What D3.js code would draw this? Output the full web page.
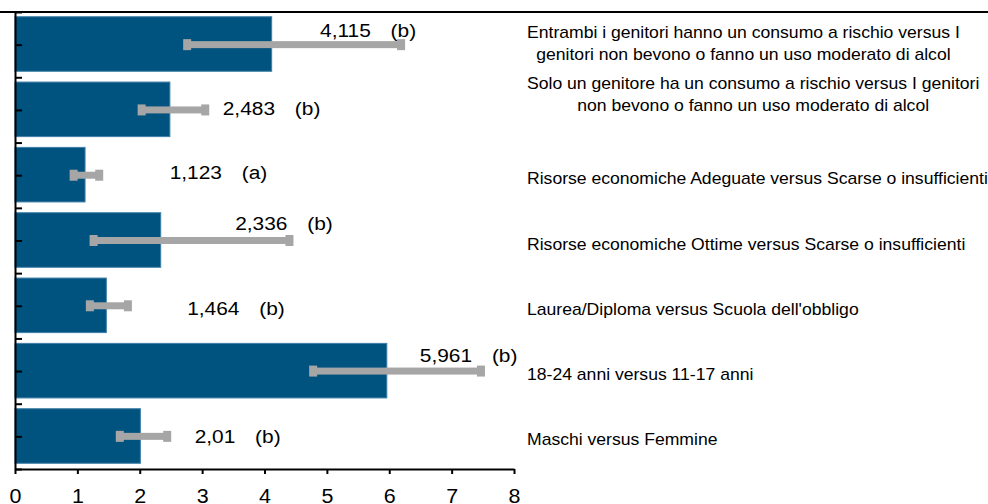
<!DOCTYPE html>
<html>
<head>
<meta charset="utf-8">
<script src="https://cdnjs.cloudflare.com/ajax/libs/d3/7.8.5/d3.min.js"></script>
<style>
	body { margin: 0; background: #ffffff; }
	text { font-family: "Liberation Sans", Arial, sans-serif; fill: #000000; }
</style>
</head>
<body>
<script>
//Data
var categories = [
	["Entrambi i genitori hanno un consumo a rischio versus I", "genitori non bevono o fanno un uso moderato di alcol"],
	["Solo un genitore ha un consumo a rischio versus I genitori", "non bevono o fanno un uso moderato di alcol"],
	["Risorse economiche Adeguate versus Scarse o insufficienti"],
	["Risorse economiche Ottime versus Scarse o insufficienti"],
	["Laurea/Diploma versus Scuola dell'obbligo"],
	["18-24 anni versus 11-17 anni"],
	["Maschi versus Femmine"]
];
var values = [4.115, 2.483, 1.123, 2.336, 1.464, 5.961, 2.01];
var lower = [2.76, 2.03, 0.94, 1.26, 1.20, 4.78, 1.68];
var upper = [6.19, 3.05, 1.35, 4.40, 1.81, 7.47, 2.44];
var significance = ["(b)", "(b)", "(a)", "(b)", "(b)", "(b)", "(b)"];
var xTicks = [0, 1, 2, 3, 4, 5, 6, 7, 8];

//Where the value labels were dragged to (x in axis units, y offset from row centre)
var labelAt = [[4.89, -8], [3.33, 5], [2.48, 4], [3.53, -11], [2.76, 9], [6.49, -9], [2.88, 7]];
//First baseline of each category label, offset from row centre
var catShift = [-7, -21, 9, 9, 9, 9, 9];

//Width and height
var w = 988, h = 504;
var stretch = 1.1; //text in the picture is a bit wider than tall

var svg = d3.select("body")
	.append("svg")
	.attr("width", w)
	.attr("height", h);

//Scales
var x = d3.scaleLinear()
	.domain([0, 8])
	.range([15, 514]);

var y = d3.scaleBand()
	.domain(d3.range(values.length))
	.range([12, 469])
	.paddingInner(0.165)
	.paddingOuter(0.08);

var rowScale = d3.scaleLinear()
	.domain([0, values.length])
	.range([12, 469]);

function rowMid(i) { return rowScale(i + 0.5); }

//Top rule
svg.append("line")
	.attr("x1", 0)
	.attr("x2", w)
	.attr("y1", 12)
	.attr("y2", 12)
	.style("stroke", "#000")
	.style("stroke-width", 2);

//Bars
svg.selectAll("rect.bar")
	.data(values)
	.enter()
	.append("rect")
	.attr("class", "bar")
	.attr("x", x(0))
	.attr("y", function(d, i) { return y(i) - 0.5; })
	.attr("width", function(d) { return x(d) - x(0); })
	.attr("height", y.bandwidth())
	.style("fill", "#00527f")
	.style("stroke", "#3f7fa8")
	.style("stroke-width", 1);

//Error bars
var err = svg.append("g").attr("class", "err");
err.selectAll("rect.line")
	.data(values)
	.enter()
	.append("rect")
	.attr("x", function(d, i) { return x(lower[i]); })
	.attr("y", function(d, i) { return rowMid(i) - 3.5; })
	.attr("width", function(d, i) { return x(upper[i]) - x(lower[i]); })
	.attr("height", 7)
	.style("fill", "#a6a6a6");

err.selectAll("rect.lo")
	.data(lower)
	.enter()
	.append("rect")
	.attr("x", function(d) { return x(d) - 4; })
	.attr("y", function(d, i) { return rowMid(i) - 5.5; })
	.attr("width", 8)
	.attr("height", 11)
	.style("fill", "#a6a6a6");

err.selectAll("rect.hi")
	.data(upper)
	.enter()
	.append("rect")
	.attr("x", function(d) { return x(d) - 4; })
	.attr("y", function(d, i) { return rowMid(i) - 5.5; })
	.attr("width", 8)
	.attr("height", 11)
	.style("fill", "#a6a6a6");

//Value labels
var labels = svg.selectAll("text.val")
	.data(values)
	.enter()
	.append("text")
	.attr("class", "val")
	.attr("transform", function(d, i) {
		return "translate(" + x(labelAt[i][0]) + "," + (rowMid(i) + labelAt[i][1]) + ") scale(" + stretch + ",1)";
	})
	.style("font-size", "19px");
labels.append("tspan")
	.text(function(d) { return String(d).replace(".", ","); });
labels.append("tspan")
	.attr("dx", 18)
	.text(function(d, i) { return significance[i]; });

//Category labels on the right
var cat = svg.selectAll("g.cat")
	.data(categories)
	.enter()
	.append("g")
	.attr("class", "cat")
	.attr("transform", function(d, i) {
		return "translate(527," + (rowMid(i) + catShift[i]) + ") scale(" + stretch + ",1)";
	});

cat.each(function(lines) {
	var g = d3.select(this);
	var t = g.selectAll("text")
		.data(lines)
		.enter()
		.append("text")
		.attr("y", function(d, j) { return j * 22; })
		.style("font-size", "16px")
		.text(function(d) { return d; });
	if (lines.length > 1) {
		//Centre the lines in the box like the original text box
		var widest = d3.max(t.nodes(), function(n) { return n.getComputedTextLength(); });
		t.attr("x", widest / 2).attr("text-anchor", "middle");
	}
});

//Y axis with ticks at every half row
var yAxis = d3.axisLeft(rowScale)
	.tickValues(d3.range(0, values.length + 0.01, 0.5))
	.tickSizeInner(-7)
	.tickSizeOuter(0)
	.tickFormat("");

svg.append("g")
	.attr("transform", "translate(15,0)")
	.call(yAxis);

//X axis
var xAxis = d3.axisBottom(x)
	.tickValues(xTicks)
	.tickSizeInner(5)
	.tickSizeOuter(0)
	.tickFormat(d3.format("d"));

var gx = svg.append("g")
	.attr("transform", "translate(0,469)")
	.call(xAxis);

gx.selectAll("text")
	.attr("y", 0)
	.attr("dy", 0)
	.attr("transform", "translate(0,34) scale(" + stretch + ",1)")
	.style("font-size", "19.5px")
	.style("font-family", "'Liberation Sans', Arial, sans-serif")
	.style("fill", "#000");

//Styling
svg.selectAll(".domain, .tick line")
	.style("stroke", "#000")
	.style("stroke-width", 2);
</script>
</body>
</html>
